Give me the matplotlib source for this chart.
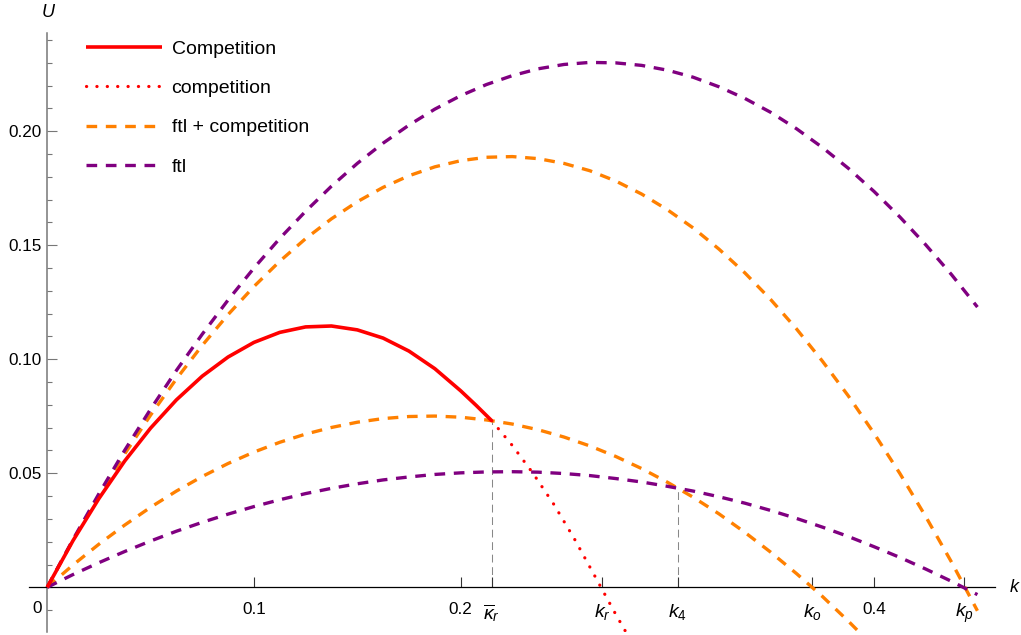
import numpy as np
import matplotlib.pyplot as plt

plt.rcParams['font.family'] = ['Liberation Sans', 'DejaVu Sans']
plt.rcParams['mathtext.fontset'] = 'custom'
plt.rcParams['mathtext.rm'] = 'Liberation Sans'
plt.rcParams['mathtext.it'] = 'Liberation Sans:italic'

# values
k = [0, 0.0125, 0.025, 0.0375, 0.05, 0.0625, 0.075, 0.0875, 0.1, 0.1125,
     0.125, 0.1375, 0.15, 0.1625, 0.175, 0.1875, 0.2, 0.2125, 0.225, 0.2375,
     0.25, 0.2625, 0.275, 0.2875, 0.3, 0.3125, 0.325, 0.3375, 0.35, 0.3625,
     0.375, 0.3875, 0.4, 0.4125, 0.425, 0.4375, 0.45]
ftl_high = [0, 0.0210, 0.0410, 0.0601, 0.0781, 0.0951, 0.1110, 0.1260, 0.1400, 0.1530,
            0.1649, 0.1759, 0.1859, 0.1948, 0.2027, 0.2097, 0.2156, 0.2205, 0.2244, 0.2274,
            0.2293, 0.2302, 0.2300, 0.2289, 0.2268, 0.2237, 0.2195, 0.2144, 0.2083, 0.2011,
            0.1929, 0.1838, 0.1736, 0.1624, 0.1502, 0.1371, 0.1229]
ftl_comp_high = [0, 0.0207, 0.0402, 0.0585, 0.0755, 0.0914, 0.1061, 0.1196, 0.1319, 0.1430,
                 0.1529, 0.1616, 0.1691, 0.1754, 0.1805, 0.1844, 0.1871, 0.1886, 0.1889, 0.1880,
                 0.1859, 0.1827, 0.1782, 0.1725, 0.1656, 0.1576, 0.1483, 0.1379, 0.1262, 0.1133,
                 0.0992, 0.0840, 0.0675, 0.0499, 0.0310, 0.0110, -0.0103]
ftl_low = [0, 0.0056, 0.0108, 0.0157, 0.0203, 0.0246, 0.0285, 0.0321, 0.0354, 0.0384,
           0.0411, 0.0434, 0.0454, 0.0471, 0.0484, 0.0495, 0.0502, 0.0506, 0.0507, 0.0505,
           0.0499, 0.0490, 0.0477, 0.0462, 0.0443, 0.0422, 0.0397, 0.0369, 0.0337, 0.0302,
           0.0264, 0.0223, 0.0178, 0.0131, 0.0080, 0.0026, -0.0032]
ftl_comp_low = [0, 0.0098, 0.0189, 0.0273, 0.0351, 0.0422, 0.0486, 0.0543, 0.0593, 0.0636,
                0.0672, 0.0701, 0.0724, 0.0740, 0.0749, 0.0751, 0.0746, 0.0734, 0.0716, 0.0691,
                0.0659, 0.0620, 0.0574, 0.0521, 0.0461, 0.0395, 0.0322, 0.0241, 0.0154, 0.0060,
                -0.0040, -0.0148, -0.0262]

comp_k = [0, 0.0125, 0.025, 0.0375, 0.05, 0.0625, 0.075, 0.0875, 0.1, 0.1125,
          0.125, 0.1375, 0.15, 0.1625, 0.175, 0.1875, 0.2, 0.2075, 0.215]
comp = [0, 0.0205, 0.0389, 0.0554, 0.0698, 0.0822, 0.0926, 0.1010, 0.1074, 0.1118,
        0.1142, 0.1146, 0.1129, 0.1093, 0.1036, 0.0959, 0.0862, 0.0798, 0.0731]
comp_dot_k = [0.215, 0.225, 0.235, 0.245, 0.255, 0.265, 0.275, 0.285]
comp_dot = [0.0731, 0.0622, 0.0500, 0.0365, 0.0213, 0.0048, -0.0118, -0.0276]

kbar_r, k_r, k_4, k_o, k_p = 0.215, 0.2684, 0.3051, 0.3700, 0.4436
u_kbar, u_k4 = 0.0731, 0.0434

xtick_pos = [0.1, 0.2, kbar_r, k_r, k_4, k_o, 0.4, k_p]
xtick_lab = ['0.1', '0.2', r'$\overline{\kappa}_r$', r'$k_r$', r'$k_4$', r'$k_o$', '0.4', r'$k_p$']
ytick_pos = [0.05, 0.10, 0.15, 0.20]
ytick_lab = ['0.05', '0.10', '0.15', '0.20']

red = '#ff0000'
orange = '#ff8000'
purple = '#800080'

fig = plt.figure(figsize=(10.21, 6.35), dpi=100)
ax = fig.add_axes([29 / 1021, 3 / 635, (995 - 29) / 1021, (632 - 33) / 635])
ax.set_xlim(-0.0088, 0.4585)
ax.set_ylim(-0.0196, 0.2431)

# guide lines
ax.vlines([kbar_r, k_4], 0, [u_kbar, u_k4], colors='#888888', lw=0.75,
          linestyles=(0, (7.5, 4.5)), zorder=1)

dash = (0, (3.2, 2.6))
ax.plot(comp_k, comp, color=red, lw=2.6, solid_capstyle='butt', label='Competition', zorder=4)
ax.plot(comp_dot_k, comp_dot, color=red, lw=2.3, linestyle=(0, (0.05, 3.2)),
        dash_capstyle='round', label='competition', zorder=4)
ax.plot(k[:len(ftl_comp_low)], ftl_comp_low, color=orange, lw=2.4, linestyle=dash,
        label='ftl + competition', zorder=3)
ax.plot(k, ftl_comp_high, color=orange, lw=2.4, linestyle=dash, zorder=3)
ax.plot(k, ftl_low, color=purple, lw=2.4, linestyle=dash, label='ftl', zorder=3)
ax.plot(k, ftl_high, color=purple, lw=2.4, linestyle=dash, zorder=3)

# Mathematica-like axes through the origin
for s in ['top', 'right']:
    ax.spines[s].set_visible(False)
ax.spines['bottom'].set_position(('data', 0))
ax.spines['left'].set_position(('data', 0))
ax.spines['bottom'].set_color('black')
ax.spines['bottom'].set_linewidth(0.9)
ax.spines['left'].set_color('#777777')
ax.spines['left'].set_linewidth(1.1)

ax.set_xticks(xtick_pos)
ax.set_xticklabels(xtick_lab)
ax.set_yticks(ytick_pos)
ax.set_yticklabels(ytick_lab)
ax.set_yticks(np.arange(-0.01, 0.245, 0.01), minor=True)
ax.tick_params(axis='x', direction='in', length=7, width=0.8, color='#333333',
               labelsize=12.3, pad=10.5)
ax.tick_params(axis='y', which='major', direction='in', length=7, width=0.8,
               color='#777777', labelsize=12.3, pad=4)
ax.tick_params(axis='y', which='minor', direction='in', length=3.6, width=0.8,
               color='#777777')
for lbl in ax.get_xticklabels():
    if '$' in lbl.get_text():
        lbl.set_fontsize(14)

ax.text(-0.0047, -0.0095, '0', fontsize=12.3, ha='center', va='center')
ax.text(0.0005, 0.252, r'$U$', fontsize=13, ha='center', va='center', clip_on=False)
ax.text(0.4682, 0.0, r'$k$', fontsize=13, ha='center', va='center', clip_on=False)

ax.legend(loc='upper left', bbox_to_anchor=(86 / 1021, 1 - 40 / 635),
          bbox_transform=fig.transFigure, frameon=False, fontsize=14,
          handlelength=3.9, handletextpad=0.5, labelspacing=1.12,
          borderpad=0, borderaxespad=0)

fig.savefig('out.png', dpi=100)
